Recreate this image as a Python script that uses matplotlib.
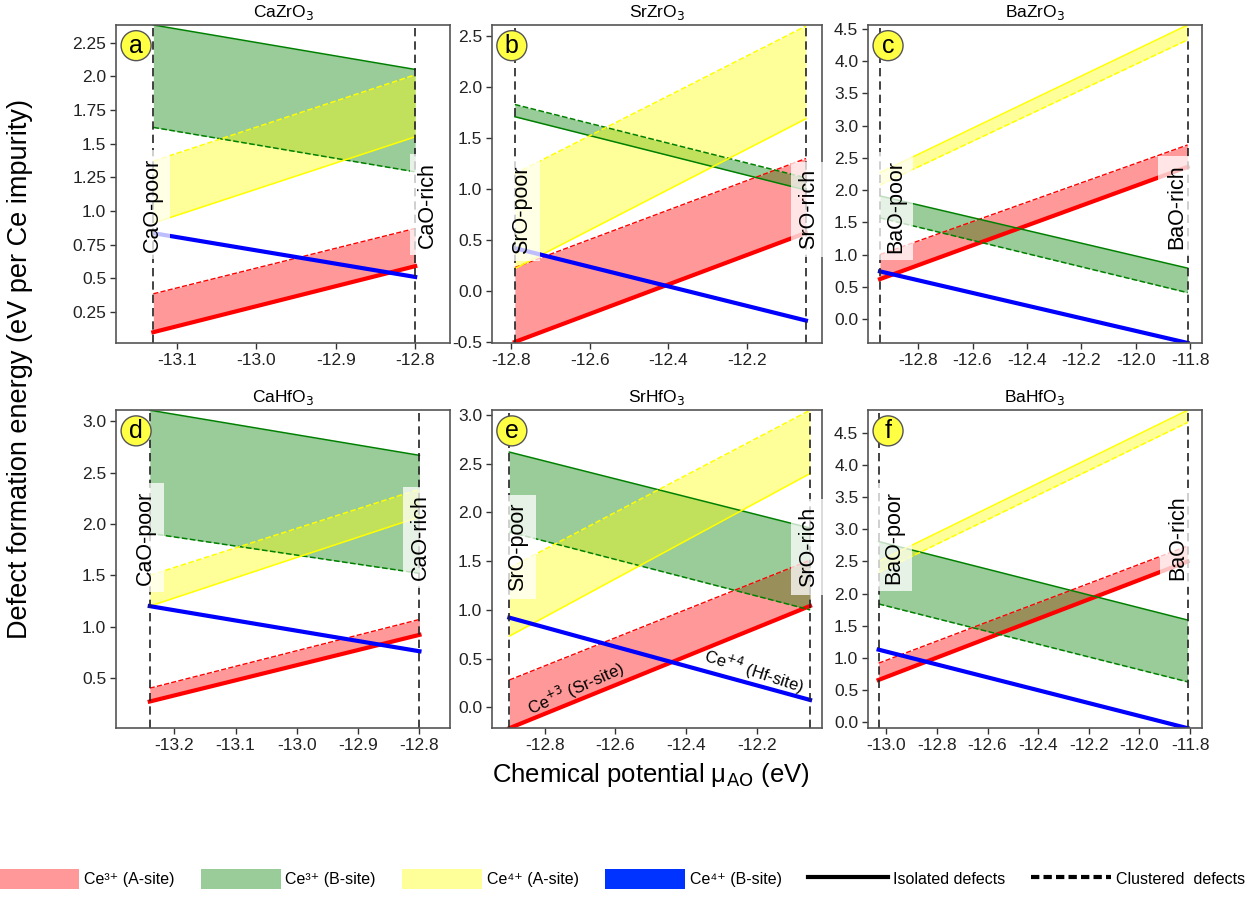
import matplotlib
matplotlib.use("Agg")
import matplotlib.pyplot as plt
from matplotlib.patches import Patch
from matplotlib.lines import Line2D
from matplotlib.ticker import MultipleLocator, FuncFormatter

plt.rcParams['font.family'] = ['Liberation Sans', 'DejaVu Sans']
plt.rcParams['axes.unicode_minus'] = False

# compounds / panels
titles = ["CaZrO$_3$", "SrZrO$_3$", "BaZrO$_3$", "CaHfO$_3$", "SrHfO$_3$", "BaHfO$_3$"]
letters = ["a", "b", "c", "d", "e", "f"]
oxides = ["CaO", "SrO", "BaO", "CaO", "SrO", "BaO"]

# chemical potential limits (AO-poor, AO-rich)
mu = [(-13.13, -12.80), (-12.79, -12.05), (-12.94, -11.81),
      (-13.24, -12.80), (-12.90, -12.05), (-13.03, -11.81)]

# formation energies at (poor, rich), isolated / clustered
ce3_A_iso = [(0.10, 0.59), (-0.50, 0.57), (0.62, 2.36), (0.27, 0.92), (-0.215, 1.04), (0.66, 2.50)]
ce3_A_clu = [(0.385, 0.87), (0.23, 1.30), (1.00, 2.70), (0.40, 1.07), (0.28, 1.51), (0.92, 2.74)]
ce3_B_iso = [(2.38, 2.05), (1.71, 0.99), (1.91, 0.79), (3.11, 2.67), (2.62, 1.84), (2.81, 1.59)]
ce3_B_clu = [(1.62, 1.29), (1.83, 1.11), (1.57, 0.41), (1.91, 1.52), (1.80, 1.00), (1.84, 0.63)]
ce4_A_iso = [(0.91, 1.55), (0.22, 1.69), (2.27, 4.56), (1.20, 2.07), (0.73, 2.40), (2.50, 4.85)]
ce4_A_clu = [(1.37, 2.01), (1.15, 2.60), (2.08, 4.33), (1.50, 2.34), (1.43, 3.05), (2.33, 4.66)]
ce4_B = [(0.835, 0.51), (0.42, -0.29), (0.74, -0.37), (1.20, 0.76), (0.92, 0.075), (1.13, -0.09)]

# axis ranges and tick steps
xlims = [(-13.177, -12.756), (-12.848, -12.009), (-12.984, -11.757),
         (-13.295, -12.75), (-12.949, -12.016), (-13.072, -11.753)]
ylims = [(0.02, 2.38), (-0.51, 2.61), (-0.37, 4.56),
         (0.01, 3.11), (-0.215, 3.05), (-0.09, 4.85)]
xsteps = [0.1, 0.2, 0.2, 0.1, 0.2, 0.2]
ysteps = [0.25, 0.5, 0.5, 0.5, 0.5, 0.5]

# poor / rich label placement (axes y fraction, x offset in points)
label_y = [0.435, 0.42, 0.43, 0.60, 0.57, 0.60]
poor_dx = [-1, 5, 11, -3, 6, 11]
rich_dx = [9, 2, -8, 1, -1, -7]


def fmt(v, pos):
    s = "%.2f" % v
    s = s.rstrip("0")
    if s.endswith("."):
        s += "0"
    if s == "-0.0":
        s = "0.0"
    return s


fig = plt.figure(figsize=(12.52, 8.99), dpi=100)
lefts = [0.0927, 0.393, 0.6933]
widths = [0.2668, 0.2636, 0.2668]
bottoms = [0.6185, 0.190]
h = 0.3537

for i in range(6):
    r, c = divmod(i, 3)
    ax = fig.add_axes([lefts[c], bottoms[r], widths[c], h])
    x = mu[i]
    # fills: red, green, yellow
    ax.fill_between(x, ce3_A_iso[i], ce3_A_clu[i], color='red', alpha=0.4, lw=0)
    ax.fill_between(x, ce3_B_iso[i], ce3_B_clu[i], color='green', alpha=0.4, lw=0)
    ax.fill_between(x, ce4_A_iso[i], ce4_A_clu[i], color='yellow', alpha=0.4, lw=0)
    ax.plot(x, ce3_A_iso[i], color='red', lw=3)
    ax.plot(x, ce3_A_clu[i], color='red', lw=1, ls='--')
    ax.plot(x, ce3_B_iso[i], color='green', lw=1.1)
    ax.plot(x, ce3_B_clu[i], color='green', lw=1.1, ls='--')
    ax.plot(x, ce4_A_iso[i], color='yellow', lw=1.1)
    ax.plot(x, ce4_A_clu[i], color='yellow', lw=1.1, ls='--')
    ax.plot(x, ce4_B[i], color='blue', lw=3)
    for xv in x:
        ax.axvline(xv, color='#222222', ls='--', lw=1.2, dashes=(5, 3))

    ax.set_xlim(xlims[i])
    ax.set_ylim(ylims[i])
    ax.xaxis.set_major_locator(MultipleLocator(xsteps[i]))
    ax.yaxis.set_major_locator(MultipleLocator(ysteps[i]))
    ax.xaxis.set_major_formatter(FuncFormatter(fmt))
    ax.yaxis.set_major_formatter(FuncFormatter(fmt))
    ax.tick_params(labelsize=12.5, length=4, width=1, colors='#333333', labelcolor='#222222', pad=3)
    for sp in ax.spines.values():
        sp.set_color('#555555')
        sp.set_linewidth(1.2)
    ax.set_title(titles[i], fontsize=12.5, pad=6)

    box = dict(boxstyle='square,pad=0.35', fc='white', ec='none', alpha=0.75)
    ax.annotate(oxides[i] + "-poor", xy=(x[0], label_y[i]),
                xycoords=('data', 'axes fraction'), xytext=(poor_dx[i], 0),
                textcoords='offset points', rotation=90, ha='center', va='center',
                fontsize=15.5, bbox=box, zorder=5)
    ax.annotate(oxides[i] + "-rich", xy=(x[1], label_y[i]),
                xycoords=('data', 'axes fraction'), xytext=(rich_dx[i], 0),
                textcoords='offset points', rotation=90, ha='center', va='center',
                fontsize=15.5, bbox=box, zorder=5, annotation_clip=False)
    ax.text(0.06, 0.935, letters[i], transform=ax.transAxes, ha='center', va='center',
            fontsize=18, zorder=6,
            bbox=dict(boxstyle='circle,pad=0.12', fc='#ffff44', ec='#555555', lw=1))

    if i == 4:
        ax.text(-12.713, 0.195, "Ce$^{+3}$ (Sr-site)", rotation=24, ha='center',
                va='center', fontsize=12)
        ax.text(-12.21, 0.376, "Ce$^{+4}$ (Hf-site)", rotation=-18, ha='center',
                va='center', fontsize=12)

fig.text(0.016, 0.59, "Defect formation energy (eV per Ce impurity)", rotation=90,
         ha='center', va='center', fontsize=19.5)
fig.text(0.52, 0.138, "Chemical potential μ$_{\\mathrm{AO}}$ (eV)", ha='center',
         va='center', fontsize=18.5)

handles = [Patch(facecolor='#ff9999'), Patch(facecolor='#99cc99'),
           Patch(facecolor='#ffff99'), Patch(facecolor='#0033ff'),
           Line2D([], [], color='black', lw=3), Line2D([], [], color='black', lw=3, ls='--', dashes=(2, 1))]
labels = ["Ce\u00b3\u207a (A-site)", "Ce\u00b3\u207a (B-site)", "Ce\u2074\u207a (A-site)",
          "Ce\u2074\u207a (B-site)", "Isolated defects", "Clustered  defects"]
fig.legend(handles, labels, loc='center', bbox_to_anchor=(0.497, 0.022), ncol=6,
           frameon=False, fontsize=11.5, handlelength=5.0, handleheight=1.6,
           handletextpad=0.3, columnspacing=1.65)

fig.savefig("out.png", dpi=100)
